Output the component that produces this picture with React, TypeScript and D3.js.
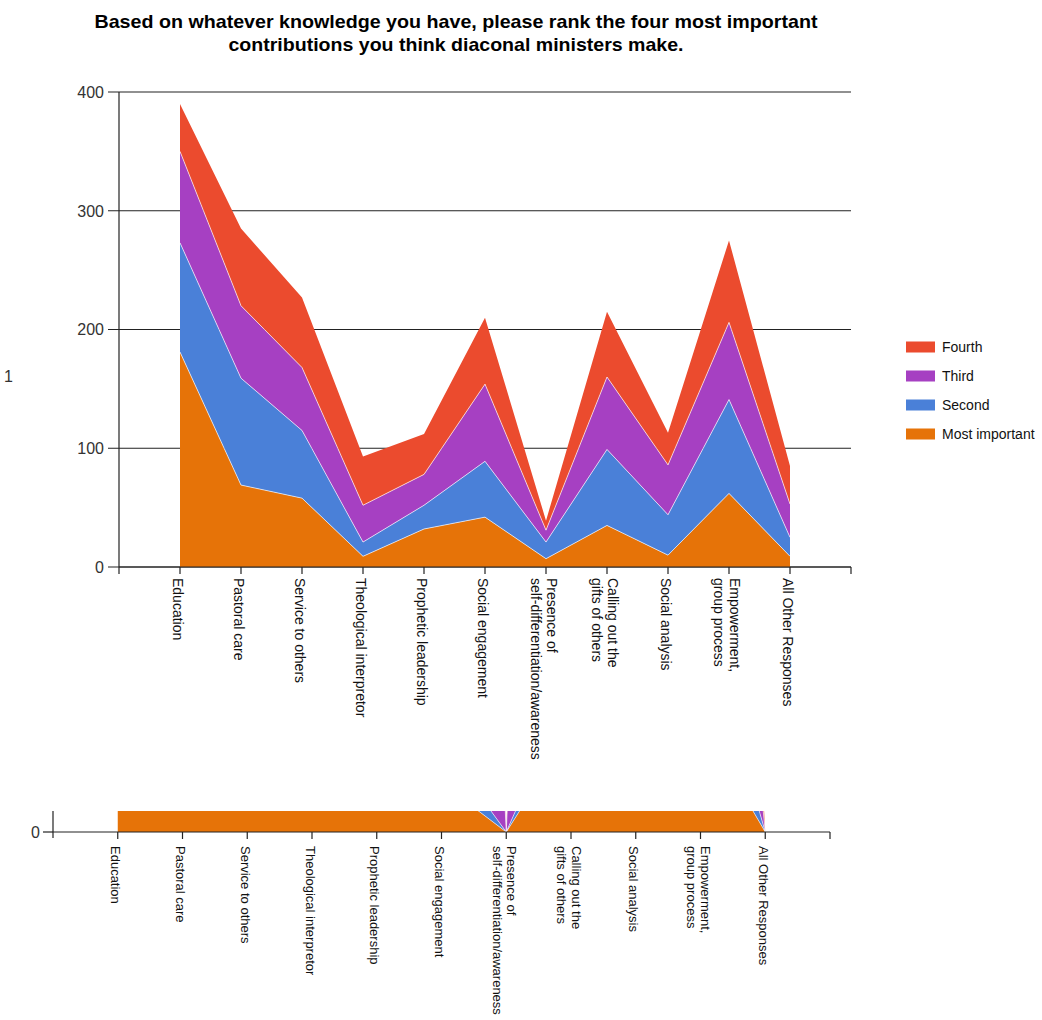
import React from "react";
import * as d3 from "d3";

const categories = [
  "Education",
  "Pastoral care",
  "Service to others",
  "Theological interpretor",
  "Prophetic leadership",
  "Social engagement",
  "Presence of\nself-differentiation/awareness",
  "Calling out the\ngifts of others",
  "Social analysis",
  "Empowerment,\ngroup process",
  "All Other Responses",
];

const seriesNames = ["Most important", "Second", "Third", "Fourth"];

const mostImportant = [181, 69, 58, 9, 32, 42, 7, 35, 10, 62, 9];
const second = [92, 90, 57, 12, 20, 47, 14, 64, 34, 79, 16];
const third = [77, 61, 53, 31, 26, 65, 10, 61, 42, 65, 28];
const fourth = [40, 65, 59, 41, 34, 56, 8, 55, 27, 69, 32];

// second (ghost) chart, only its bottom strip is visible
const lowerMost = [80, 80, 80, 80, 80, 49, 0, 102, 80, 111, 0];
const lowerSecond = [60, 60, 60, 60, 60, 40, 0, 45, 60, 116, 0];
const lowerThird = [300, 300, 300, 300, 300, 1300, 0, 1300, 300, 450, 0];
const lowerFourth = [300, 300, 300, 300, 300, 300, 0, 300, 300, 500, 0];

const yTicks = [0, 100, 200, 300, 400];
const lowerYTicks = [0];

const colors = ["#E67308", "#4A80D8", "#A640C2", "#EB4B2E"];

const titleLines = [
  "Based on whatever knowledge you have, please rank the four most important",
  "contributions you think diaconal ministers make.",
];
const titleWidths = [723, 455];

const FONT = "'Liberation Sans', Arial, sans-serif";

function buildStack(a: number[], b: number[], c: number[], d: number[]) {
  const rows = categories.map((cat, i) => ({
    cat,
    "Most important": a[i],
    Second: b[i],
    Third: c[i],
    Fourth: d[i],
  }));
  return d3.stack<any>().keys(seriesNames)(rows);
}

function XLabels({ x, y0, fontSize }: { x: d3.ScalePoint<string>; y0: number; fontSize: number }) {
  return (
    <g fontFamily={FONT} fontSize={fontSize} fill="#111">
      {categories.map((c) => {
        const lines = c.split("\n");
        const first = 0.5 - (lines.length - 1) * 0.55;
        return (
          <text key={c} transform={`translate(${x(c)},${y0}) rotate(90)`}>
            {lines.map((l, j) => (
              <tspan key={j} x={0} dy={j === 0 ? `${first}em` : "1.1em"}>
                {l}
              </tspan>
            ))}
          </text>
        );
      })}
    </g>
  );
}

export default function App() {
  // ---------- main chart ----------
  const x = d3.scalePoint<string>().domain(categories).range([119, 851]).padding(1);
  const y = d3.scaleLinear().domain([0, 400]).range([567, 92]);
  const stack = buildStack(mostImportant, second, third, fourth);
  const area = d3
    .area<any>()
    .x((d) => x(d.data.cat)!)
    .y0((d) => y(d[0]))
    .y1((d) => y(d[1]));
  const topLine = d3
    .line<any>()
    .x((d) => x(d.data.cat)!)
    .y((d) => y(d[1]));

  // ---------- ghost chart ----------
  const x2 = d3.scalePoint<string>().domain(categories).range([53, 830]).padding(1);
  const y2 = d3.scaleLinear().domain([0, 21]).range([832, 811]);
  const stack2 = buildStack(lowerMost, lowerSecond, lowerThird, lowerFourth);
  const area2 = d3
    .area<any>()
    .x((d) => x2(d.data.cat)!)
    .y0((d) => y2(d[0]))
    .y1((d) => y2(d[1]));
  const topLine2 = d3
    .line<any>()
    .x((d) => x2(d.data.cat)!)
    .y((d) => y2(d[1]));

  const xEnd = 851;
  const xEnd2 = 830;

  return (
    <svg
      width={1042}
      height={1020}
      style={{ position: "absolute", left: 0, top: 0, background: "#fff" }}
    >
      <defs>
        <clipPath id="ghostClip">
          <rect x={53} y={811} width={xEnd2 - 53} height={21} />
        </clipPath>
      </defs>

      {/* ghost chart */}
      <g clipPath="url(#ghostClip)">
        {stack2.map((s, i) => (
          <path key={i} d={area2(s)!} fill={colors[i]} />
        ))}
        {stack2.slice(0, 3).map((s, i) => (
          <path key={"l" + i} d={topLine2(s)!} fill="none" stroke="rgba(255,255,255,0.6)" strokeWidth={1} />
        ))}
      </g>
      <g stroke="#222" strokeWidth={1.2}>
        <line x1={53} x2={xEnd2} y1={y2(0)} y2={y2(0)} />
        <line x1={53} x2={53} y1={811} y2={838} />
        {lowerYTicks.map((t) => (
          <line key={t} x1={43} x2={53} y1={y2(t)} y2={y2(t)} />
        ))}
        {categories.map((c) => (
          <line key={c} x1={x2(c)} x2={x2(c)} y1={832} y2={839} />
        ))}
        <line x1={xEnd2} x2={xEnd2} y1={832} y2={839} />
      </g>
      {lowerYTicks.map((t) => (
        <text key={t} x={40} y={y2(t)} dy="0.36em" textAnchor="end" fontFamily={FONT} fontSize={16} fill="#333">
          {t}
        </text>
      ))}
      <XLabels x={x2} y0={846} fontSize={13} />

      {/* stray fragment on the left edge */}
      <text x={4} y={382} fontFamily={FONT} fontSize={16} fill="#333">1</text>

      {/* title */}
      <g fontFamily={FONT} fontSize={18.5} fontWeight="bold" fill="#000" textAnchor="middle">
        {titleLines.map((t, i) => (
          <text
            key={i}
            x={456}
            y={28 + i * 23}
            textLength={titleWidths[i]}
            lengthAdjust="spacingAndGlyphs"
          >
            {t}
          </text>
        ))}
      </g>

      {/* gridlines */}
      <g stroke="#222" strokeWidth={1.2}>
        {yTicks.map((t) => (
          <line key={t} x1={108} x2={xEnd} y1={y(t)} y2={y(t)} />
        ))}
      </g>

      {/* areas */}
      {stack.map((s, i) => (
        <path key={i} d={area(s)!} fill={colors[i]} />
      ))}
      {stack.slice(0, 3).map((s, i) => (
        <path key={"l" + i} d={topLine(s)!} fill="none" stroke="rgba(255,255,255,0.65)" strokeWidth={1} />
      ))}

      {/* axes */}
      <g stroke="#222" strokeWidth={1.2}>
        <line x1={119} x2={119} y1={y(400)} y2={574} />
        <line x1={119} x2={xEnd} y1={y(0)} y2={y(0)} />
        {categories.map((c) => (
          <line key={c} x1={x(c)} x2={x(c)} y1={567} y2={574} />
        ))}
        <line x1={xEnd} x2={xEnd} y1={567} y2={574} />
      </g>
      {yTicks.map((t) => (
        <text key={t} x={104} y={y(t)} dy="0.36em" textAnchor="end" fontFamily={FONT} fontSize={16} fill="#333">
          {t}
        </text>
      ))}
      <XLabels x={x} y0={578} fontSize={14} />

      {/* legend */}
      <g fontFamily={FONT} fontSize={14} fill="#111">
        {[3, 2, 1, 0].map((si, k) => (
          <g key={si} transform={`translate(906,${347 + k * 29})`}>
            <rect x={0} y={-5.5} width={29} height={11} fill={colors[si]} />
            <text x={36} y={0} dy="0.36em">
              {seriesNames[si]}
            </text>
          </g>
        ))}
      </g>
    </svg>
  );
}
